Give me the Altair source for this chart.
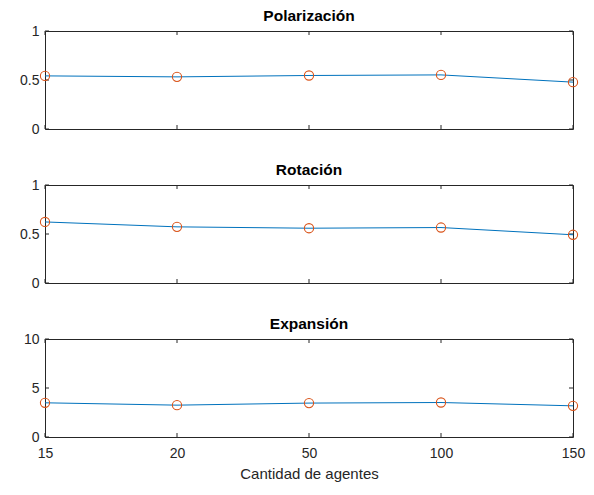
import altair as alt
import pandas as pd

agentes = ["15", "20", "50", "100", "150"]
polarizacion = [0.542, 0.532, 0.546, 0.552, 0.478]
rotacion = [0.623, 0.573, 0.559, 0.566, 0.492]
expansion = [3.49, 3.25, 3.46, 3.52, 3.18]

FONT = "Liberation Sans"
AX = "#262626"
BLUE = "#0072BD"
ORANGE = "#D95319"
W, H, TK = 528, 98, 4


def panel(values, title, ymax, yticks, bottom):
    df = pd.DataFrame({"agentes": agentes, "valor": values})
    tdf = pd.DataFrame({"agentes": agentes})
    ydf = pd.DataFrame({"valor": yticks})
    if bottom:
        xaxis = alt.Axis(title="Cantidad de agentes", labelAngle=0, tickSize=0,
                         labelPadding=9, titlePadding=6, domain=False,
                         labelFontSize=14, titleFontSize=15, titleFontWeight="normal")
    else:
        xaxis = alt.Axis(title=None, labels=False, ticks=False, domain=False)
    x = alt.X("agentes:O", sort=agentes,
              scale=alt.Scale(type="point", padding=0), axis=xaxis)
    y = alt.Y("valor:Q", scale=alt.Scale(domain=[0, ymax], nice=False, zero=True),
              axis=alt.Axis(title=None, values=yticks, grid=False, tickSize=0,
                            labelPadding=6, domain=False, labelFontSize=14,
                            minExtent=36, maxExtent=36,
                            labelExpr="datum.value == 0.5 ? '0.5' : format(datum.value, 'd')"))
    base = alt.Chart(df)
    line = base.mark_line(color=BLUE, strokeWidth=1).encode(x=x, y=y)
    pts = base.mark_point(shape="circle", filled=False, color=ORANGE,
                          size=85, strokeWidth=1.1, opacity=1).encode(x=x, y=y)
    xt_bot = alt.Chart(tdf).mark_rule(color=AX, strokeWidth=1).encode(
        x=x, y=alt.value(H), y2=alt.value(H - TK))
    xt_top = alt.Chart(tdf).mark_rule(color=AX, strokeWidth=1).encode(
        x=x, y=alt.value(0), y2=alt.value(TK))
    yt_l = alt.Chart(ydf).mark_rule(color=AX, strokeWidth=1).encode(
        y=y, x=alt.value(0), x2=alt.value(TK))
    yt_r = alt.Chart(ydf).mark_rule(color=AX, strokeWidth=1).encode(
        y=y, x=alt.value(W - TK), x2=alt.value(W))
    return alt.layer(xt_bot, xt_top, yt_l, yt_r, line, pts).properties(
        width=W, height=H,
        title=alt.TitleParams(title, fontSize=15.5, fontWeight="bold", font=FONT,
                              color="#000000", offset=0, anchor="middle"),
    )


chart = alt.vconcat(
    panel(polarizacion, "Polarización", 1, [0, 0.5, 1], False),
    panel(rotacion, "Rotación", 1, [0, 0.5, 1], False),
    panel(expansion, "Expansión", 10, [0, 5, 10], True),
    spacing=25,
).configure(
    background="white", padding=0
).configure_view(
    stroke=AX, strokeWidth=1
).configure_axis(
    labelFont=FONT, titleFont=FONT, labelColor=AX, titleColor=AX
)

chart.save("out.html", embed_options={"renderer": "svg", "actions": False})
